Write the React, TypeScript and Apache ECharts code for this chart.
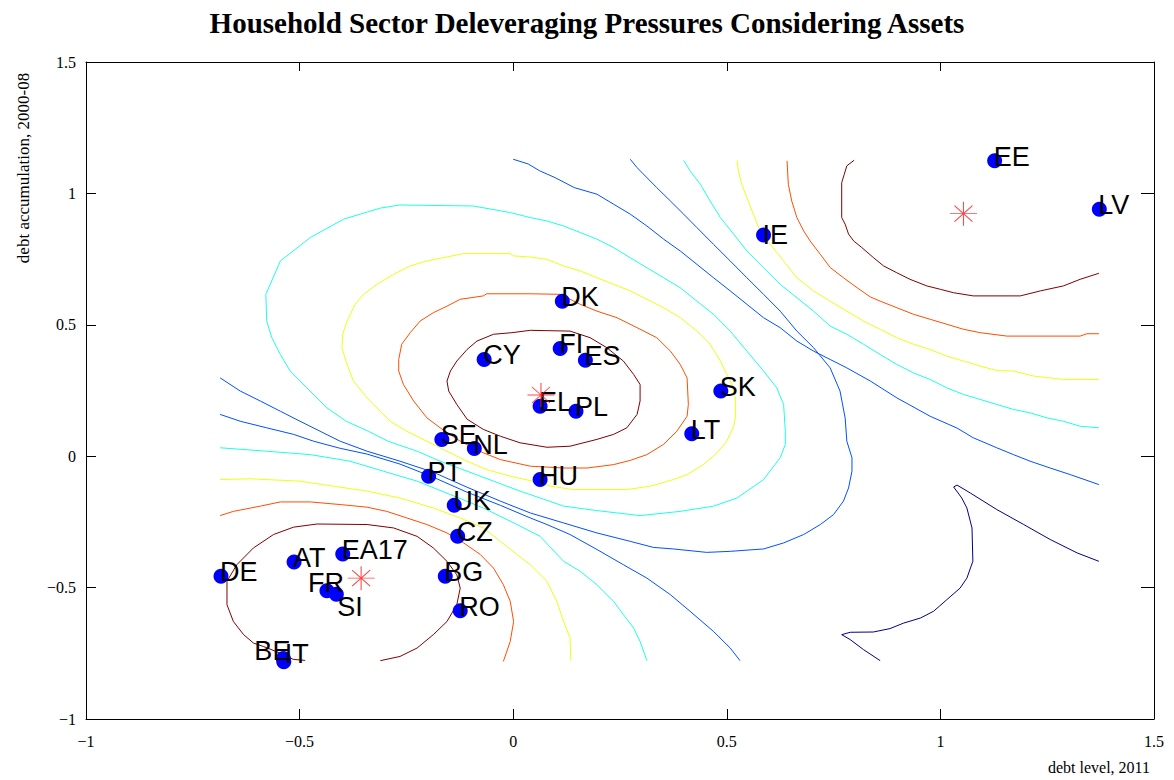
import React, { useEffect, useRef } from "react";
import * as echarts from "echarts";

// ---------- data ----------
const countries = ["EE", "LV", "IE", "DK", "FI", "ES", "CY", "EL", "PL", "SK", "LT", "SE", "NL", "PT", "HU", "UK", "CZ", "EA17", "AT", "DE", "BG", "FR", "SI", "RO", "BE", "IT"];
const debtLevel2011 = [1.127, 1.372, 0.586, 0.115, 0.110, 0.169, -0.068, 0.063, 0.147, 0.486, 0.418, -0.167, -0.091, -0.198, 0.063, -0.138, -0.130, -0.399, -0.513, -0.684, -0.159, -0.436, -0.414, -0.124, -0.538, -0.537];
const debtAccum0008 = [1.124, 0.940, 0.842, 0.590, 0.410, 0.365, 0.368, 0.190, 0.171, 0.248, 0.085, 0.064, 0.029, -0.076, -0.089, -0.187, -0.305, -0.372, -0.403, -0.457, -0.457, -0.512, -0.525, -0.588, -0.770, -0.782];

const centroidX = [1.054, 0.065, -0.356];
const centroidY = [0.923, 0.233, -0.464];

// contour lines, level 0 (lowest) .. 5 (highest)
const darkBlueV = [[1.371,-0.400],[1.320,-0.368],[1.257,-0.317],[1.195,-0.260],[1.132,-0.203],[1.070,-0.140],[1.039,-0.110],[1.031,-0.117],[1.050,-0.159],[1.062,-0.197],[1.074,-0.273],[1.076,-0.400],[1.062,-0.464],[1.046,-0.502],[1.015,-0.546],[0.984,-0.590],[0.953,-0.616],[0.914,-0.635],[0.882,-0.656],[0.843,-0.669],[0.789,-0.670],[0.769,-0.679],[0.789,-0.698],[0.820,-0.736],[0.859,-0.778]];

const blueUpper = [[0.0,1.130],[0.035,1.112],[0.062,1.086],[0.098,1.060],[0.143,1.022],[0.196,0.997],[0.235,0.959],[0.274,0.921],[0.313,0.876],[0.352,0.826],[0.391,0.781],[0.430,0.730],[0.469,0.679],[0.508,0.629],[0.547,0.578],[0.586,0.527],[0.625,0.489],[0.664,0.438],[0.703,0.400],[0.742,0.368],[0.781,0.336],[0.836,0.286],[0.898,0.222],[0.976,0.152],[1.039,0.107],[1.077,0.070],[1.132,0.032],[1.171,0.006],[1.210,-0.019],[1.257,-0.045],[1.304,-0.070],[1.371,-0.108]];

const blueAroundMid = [[-0.686,0.298],[-0.639,0.248],[-0.592,0.210],[-0.545,0.171],[-0.499,0.133],[-0.452,0.095],[-0.405,0.057],[-0.342,0.019],[-0.265,-0.019],[-0.187,-0.061],[-0.108,-0.118],[-0.030,-0.171],[0.040,-0.216],[0.118,-0.254],[0.196,-0.292],[0.274,-0.324],[0.328,-0.347],[0.375,-0.353],[0.453,-0.366],[0.508,-0.362],[0.586,-0.353],[0.633,-0.330],[0.680,-0.298],[0.719,-0.260],[0.750,-0.222],[0.773,-0.171],[0.785,-0.121],[0.793,-0.057],[0.793,-0.006],[0.781,0.057],[0.777,0.146],[0.765,0.248],[0.742,0.336],[0.703,0.413],[0.664,0.476],[0.625,0.552],[0.586,0.616],[0.547,0.679],[0.508,0.743],[0.469,0.806],[0.430,0.870],[0.399,0.921],[0.368,0.971],[0.336,1.022],[0.313,1.060],[0.290,1.098],[0.274,1.130]];

const blueLower = [[-0.686,0.159],[-0.639,0.133],[-0.577,0.108],[-0.514,0.083],[-0.467,0.057],[-0.405,0.030],[-0.342,0.008],[-0.265,-0.030],[-0.187,-0.080],[-0.108,-0.137],[-0.030,-0.187],[0.040,-0.235],[0.079,-0.260],[0.133,-0.298],[0.196,-0.355],[0.258,-0.413],[0.313,-0.464],[0.368,-0.527],[0.414,-0.590],[0.469,-0.667],[0.508,-0.730],[0.531,-0.778]];

const cyanUpper = [[0.399,1.126],[0.414,1.086],[0.438,1.035],[0.461,0.971],[0.485,0.908],[0.516,0.845],[0.547,0.781],[0.586,0.717],[0.625,0.654],[0.664,0.603],[0.703,0.552],[0.742,0.495],[0.781,0.464],[0.820,0.426],[0.859,0.387],[0.898,0.349],[0.937,0.317],[0.976,0.292],[1.015,0.260],[1.054,0.235],[1.093,0.216],[1.132,0.197],[1.171,0.178],[1.210,0.165],[1.249,0.146],[1.288,0.133],[1.327,0.114],[1.371,0.108]];

const cyanLoop = [[0.040,0.908],[0.079,0.895],[0.118,0.876],[0.157,0.851],[0.196,0.826],[0.235,0.794],[0.274,0.755],[0.313,0.717],[0.352,0.679],[0.391,0.641],[0.430,0.590],[0.469,0.540],[0.508,0.476],[0.547,0.400],[0.586,0.324],[0.617,0.260],[0.633,0.197],[0.637,0.095],[0.637,0.045],[0.625,-0.006],[0.586,-0.089],[0.524,-0.159],[0.469,-0.190],[0.391,-0.210],[0.297,-0.226],[0.196,-0.207],[0.118,-0.190],[0.063,-0.159],[0.016,-0.133],[-0.046,-0.095],[-0.108,-0.057],[-0.171,-0.019],[-0.225,0.019],[-0.293,0.057],[-0.339,0.095],[-0.391,0.133],[-0.436,0.184],[-0.483,0.260],[-0.522,0.324],[-0.545,0.387],[-0.565,0.451],[-0.577,0.514],[-0.579,0.616],[-0.545,0.743],[-0.475,0.832],[-0.397,0.902],[-0.311,0.944],[-0.265,0.956],[-0.093,0.952],[-0.007,0.927],[0.040,0.908]];

const cyanLower = [[-0.686,0.032],[-0.577,0.019],[-0.475,0.006],[-0.382,-0.019],[-0.304,-0.057],[-0.225,-0.095],[-0.147,-0.146],[-0.070,-0.197],[0.009,-0.260],[0.063,-0.305],[0.118,-0.400],[0.157,-0.438],[0.196,-0.489],[0.235,-0.552],[0.258,-0.603],[0.282,-0.654],[0.297,-0.705],[0.313,-0.778]];

const yellowUpper = [[0.524,1.126],[0.527,1.086],[0.535,1.035],[0.547,0.984],[0.562,0.921],[0.578,0.857],[0.602,0.806],[0.633,0.743],[0.664,0.679],[0.703,0.629],[0.742,0.590],[0.781,0.552],[0.820,0.514],[0.859,0.483],[0.898,0.451],[0.937,0.426],[0.976,0.406],[1.015,0.381],[1.054,0.362],[1.093,0.343],[1.132,0.326],[1.171,0.324],[1.218,0.305],[1.288,0.292],[1.371,0.292]];

const yellowLoop = [[0.040,0.758],[0.079,0.749],[0.118,0.724],[0.157,0.705],[0.196,0.679],[0.235,0.654],[0.274,0.629],[0.313,0.597],[0.352,0.565],[0.391,0.527],[0.430,0.476],[0.461,0.426],[0.485,0.362],[0.500,0.311],[0.512,0.273],[0.520,0.222],[0.520,0.146],[0.516,0.114],[0.500,0.057],[0.477,0.013],[0.445,-0.032],[0.407,-0.070],[0.375,-0.089],[0.321,-0.114],[0.266,-0.127],[0.141,-0.127],[0.087,-0.114],[0.040,-0.093],[-0.007,-0.076],[-0.062,-0.051],[-0.108,-0.019],[-0.155,0.019],[-0.202,0.057],[-0.249,0.095],[-0.288,0.133],[-0.311,0.171],[-0.342,0.222],[-0.374,0.286],[-0.389,0.349],[-0.401,0.413],[-0.399,0.464],[-0.389,0.514],[-0.370,0.578],[-0.350,0.616],[-0.319,0.654],[-0.280,0.692],[-0.241,0.724],[-0.202,0.743],[-0.171,0.753],[-0.116,0.771],[-0.007,0.771],[0.001,0.762],[0.040,0.758]];

const yellowLower = [[-0.686,-0.089],[-0.616,-0.086],[-0.499,-0.095],[-0.421,-0.114],[-0.342,-0.133],[-0.265,-0.159],[-0.187,-0.197],[-0.124,-0.235],[-0.070,-0.273],[-0.030,-0.324],[0.009,-0.374],[0.040,-0.413],[0.079,-0.476],[0.102,-0.552],[0.118,-0.629],[0.133,-0.692],[0.135,-0.778]];

const orangeUpper = [[0.641,1.124],[0.644,1.035],[0.652,0.971],[0.664,0.908],[0.680,0.857],[0.695,0.819],[0.719,0.768],[0.742,0.718],[0.773,0.679],[0.805,0.641],[0.836,0.606],[0.859,0.590],[0.898,0.565],[0.937,0.540],[0.976,0.521],[1.015,0.502],[1.054,0.483],[1.093,0.470],[1.156,0.457],[1.327,0.457],[1.343,0.466],[1.371,0.466]];

const orangeLoop = [[0.040,0.618],[0.110,0.616],[0.157,0.578],[0.196,0.552],[0.243,0.527],[0.290,0.489],[0.336,0.451],[0.368,0.400],[0.391,0.349],[0.407,0.298],[0.410,0.197],[0.407,0.152],[0.383,0.095],[0.352,0.045],[0.313,0.006],[0.274,-0.016],[0.235,-0.032],[0.173,-0.045],[0.118,-0.045],[0.040,-0.038],[-0.030,-0.013],[-0.070,0.013],[-0.124,0.057],[-0.171,0.108],[-0.202,0.146],[-0.233,0.210],[-0.257,0.273],[-0.268,0.324],[-0.268,0.368],[-0.261,0.426],[-0.241,0.470],[-0.218,0.514],[-0.187,0.546],[-0.155,0.571],[-0.124,0.597],[-0.070,0.610],[-0.062,0.618],[0.040,0.618]];

const orangeLower = [[-0.686,-0.226],[-0.655,-0.210],[-0.592,-0.190],[-0.545,-0.174],[-0.475,-0.174],[-0.405,-0.184],[-0.342,-0.194],[-0.296,-0.210],[-0.249,-0.235],[-0.202,-0.260],[-0.155,-0.292],[-0.116,-0.330],[-0.077,-0.374],[-0.046,-0.426],[-0.023,-0.489],[-0.007,-0.552],[0.001,-0.629],[-0.007,-0.705],[-0.023,-0.781]];

const darkRedUpper = [[0.798,1.126],[0.781,1.105],[0.775,1.073],[0.769,1.041],[0.769,0.908],[0.777,0.883],[0.785,0.845],[0.797,0.819],[0.816,0.794],[0.843,0.756],[0.867,0.724],[0.898,0.698],[0.929,0.673],[0.968,0.648],[1.000,0.635],[1.031,0.622],[1.077,0.610],[1.187,0.610],[1.234,0.629],[1.288,0.648],[1.327,0.673],[1.371,0.696]];

const darkRedLoop = [[0.040,0.479],[0.133,0.476],[0.180,0.451],[0.219,0.413],[0.258,0.362],[0.282,0.311],[0.297,0.273],[0.297,0.210],[0.290,0.159],[0.266,0.108],[0.235,0.083],[0.196,0.064],[0.133,0.038],[0.079,0.034],[0.016,0.051],[-0.030,0.076],[-0.070,0.102],[-0.108,0.141],[-0.132,0.197],[-0.151,0.248],[-0.155,0.286],[-0.147,0.324],[-0.132,0.362],[-0.108,0.406],[-0.085,0.438],[-0.046,0.464],[-0.003,0.470],[0.040,0.479]];

const darkRedLower = [[-0.487,-0.777],[-0.515,-0.773],[-0.538,-0.754],[-0.585,-0.724],[-0.608,-0.711],[-0.631,-0.679],[-0.655,-0.629],[-0.670,-0.565],[-0.670,-0.476],[-0.647,-0.413],[-0.608,-0.349],[-0.561,-0.298],[-0.514,-0.270],[-0.459,-0.258],[-0.342,-0.260],[-0.280,-0.273],[-0.225,-0.305],[-0.187,-0.349],[-0.155,-0.400],[-0.132,-0.451],[-0.124,-0.502],[-0.132,-0.565],[-0.155,-0.629],[-0.187,-0.679],[-0.225,-0.730],[-0.265,-0.762],[-0.311,-0.778]];

const contourLines: { level: number; pts: number[][] }[] = [
  { level: 0, pts: darkBlueV },
  { level: 1, pts: blueUpper },
  { level: 1, pts: blueAroundMid },
  { level: 1, pts: blueLower },
  { level: 2, pts: cyanUpper },
  { level: 2, pts: cyanLoop },
  { level: 2, pts: cyanLower },
  { level: 3, pts: yellowUpper },
  { level: 3, pts: yellowLoop },
  { level: 3, pts: yellowLower },
  { level: 4, pts: orangeUpper },
  { level: 4, pts: orangeLoop },
  { level: 4, pts: orangeLower },
  { level: 5, pts: darkRedUpper },
  { level: 5, pts: darkRedLoop },
  { level: 5, pts: darkRedLower },
];

// ---------- styles ----------
const levelColors = ["#000088", "#0050ff", "#1affe6", "#eeff10", "#ff4d00", "#800000"];
const DOT = 15;
// per-label nudges [dx, dy] relative to the dot centre
const labelNudge: Record<string, [number, number]> = {
  FR: [-19, -8],
  SI: [1, 13],
  BE: [-29, -8],
  IT: [1, -8],
  IE: [-1, 0],
};
const defaultNudge: [number, number] = [-1, -4];

const fmt = (v: number) => String(v).replace("-", "\u2212");

export default function App() {
  const ref = useRef<HTMLDivElement>(null);

  useEffect(() => {
    if (!ref.current) return;
    const chart = echarts.init(ref.current, undefined, { renderer: "svg" });

    const axisCommon = {
      type: "value" as const,
      min: -1,
      max: 1.5,
      interval: 0.5,
      splitLine: { show: false },
      axisLine: { show: true, onZero: false, lineStyle: { color: "#000", width: 1 } },
    };

    const contourSeries = contourLines.map((c) => ({
      type: "line" as const,
      data: c.pts,
      symbol: "none",
      showSymbol: false,
      silent: true,
      animation: false,
      z: 2,
      lineStyle: { color: levelColors[c.level], width: 1 },
    }));

    const pointData = countries.map((name, i) => {
      const [dx, dy] = labelNudge[name] || defaultNudge;
      return {
        name,
        value: [debtLevel2011[i], debtAccum0008[i]],
        label: { position: [DOT / 2 + dx, DOT / 2 + dy] },
      };
    });

    chart.setOption({
      animation: false,
      backgroundColor: "#fff",
      title: {
        text: "Household Sector Deleveraging Pressures Considering Assets",
        left: "center",
        top: 3,
        textStyle: {
          fontFamily: "Liberation Serif",
          fontWeight: "bold",
          fontSize: 29,
          color: "#000",
        },
      },
      grid: { left: 86, right: 20, top: 62, bottom: 61, containLabel: false },
      xAxis: [
        {
          ...axisCommon,
          position: "bottom",
          axisTick: { show: true, inside: true, length: 10, lineStyle: { color: "#000" } },
          axisLabel: {
            formatter: fmt,
            color: "#000",
            fontFamily: "Liberation Serif",
            fontSize: 16,
            margin: 14,
          },
          name: "debt level, 2011",
          nameLocation: "end",
          nameGap: -4,
          nameTextStyle: {
            fontFamily: "Liberation Serif",
            fontSize: 16,
            color: "#000",
            align: "right",
            verticalAlign: "top",
            padding: [40, 0, 0, 0],
          },
        },
        {
          ...axisCommon,
          position: "top",
          axisTick: { show: true, inside: true, length: 9, lineStyle: { color: "#000" } },
          axisLabel: { show: false },
        },
      ],
      yAxis: [
        {
          ...axisCommon,
          position: "left",
          axisTick: { show: true, inside: true, length: 10, lineStyle: { color: "#000" } },
          axisLabel: {
            formatter: fmt,
            color: "#000",
            fontFamily: "Liberation Serif",
            fontSize: 16,
            margin: 10,
          },
        },
        {
          ...axisCommon,
          position: "right",
          axisTick: { show: true, inside: true, length: 13, lineStyle: { color: "#000" } },
          axisLabel: { show: false },
        },
      ],
      graphic: [
        {
          type: "text",
          x: 23,
          y: 168,
          rotation: Math.PI / 2,
          silent: true,
          style: {
            text: "debt accumulation, 2000-08",
            fill: "#000",
            fontFamily: "Liberation Serif",
            fontSize: 17,
            align: "center",
            verticalAlign: "middle",
          },
        },
      ],
      series: [
        ...contourSeries,
        {
          type: "scatter",
          data: pointData,
          symbol: "circle",
          symbolSize: DOT,
          silent: true,
          z: 4,
          itemStyle: { color: "#0000ff", opacity: 1 },
          label: {
            show: true,
            formatter: "{b}",
            align: "left",
            verticalAlign: "middle",
            fontFamily: "Liberation Sans",
            fontSize: 27,
            color: "#000",
          },
        },
        {
          type: "scatter",
          data: centroidX.map((x, i) => [x, centroidY[i]]),
          symbol: "path://M12,0L12,24M0,12L24,12M4,4L20,20M4,20L20,4",
          symbolSize: [27, 24],
          silent: true,
          z: 5,
          itemStyle: { color: "rgba(0,0,0,0)", borderColor: "#ff1a1a", borderWidth: 1 },
        },
      ],
    });

    return () => chart.dispose();
  }, []);

  return (
    <div
      ref={ref}
      style={{ position: "fixed", left: 0, top: 0, width: 1174, height: 780, background: "#fff" }}
    />
  );
}
